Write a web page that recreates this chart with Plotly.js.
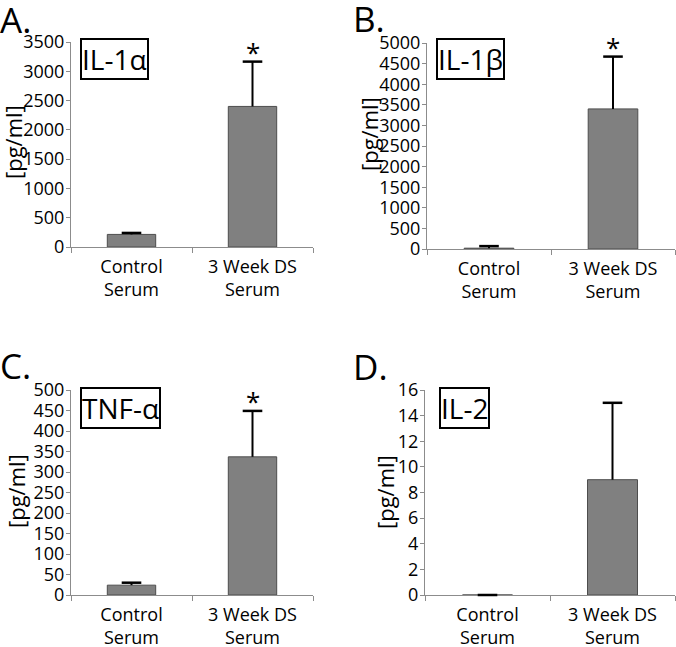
<!DOCTYPE html>
<html>
<head>
<meta charset="utf-8">
<script src="https://cdn.plot.ly/plotly-3.0.1.min.js"></script>
<style>
  body { margin: 0; background: #fff; }
  #chart { width: 676px; height: 647px; }
</style>
</head>
<body>
<div id="chart"></div>
<script>
// data (mean, upper error bar)
var groups = ['Control<br>Serum', '3 Week DS<br>Serum'];

var il1aMean = [215, 2400];
var il1aErr = [25, 765];
var il1bMean = [20, 3400];
var il1bErr = [50, 1270];
var tnfMean = [24, 337];
var tnfErr = [6, 112];
var il2Mean = [0, 9];
var il2Err = [0, 6];

var starsA = ['', '*'];
var starsB = ['', '*'];
var starsC = ['', '*'];
var starsD = ['', ''];

var W = 676, H = 647;
var FONT = 'Open Sans, Liberation Sans, sans-serif';

// pixel boxes of each plot area: [left, right, top, bottom]
var boxes = [
  [71, 313, 42, 247],
  [427, 675, 43, 249],
  [71, 313, 390, 595],
  [425, 675, 390, 595]
];
var yRanges = [[0, 3500], [0, 5000], [0, 500], [0, 16]];
var yDticks = [500, 500, 50, 2];
var names = ['IL-1\u03b1', 'IL-1\u03b2', 'TNF-\u03b1', 'IL-2'];
var panelLetters = ['A.', 'B.', 'C.', 'D.'];
var means = [il1aMean, il1bMean, tnfMean, il2Mean];
var errs = [il1aErr, il1bErr, tnfErr, il2Err];
var stars = [starsA, starsB, starsC, starsD];

// where the boxed names, letters and y titles sit (pixels)
var nameBox = [[114.5, 59.5], [471, 59.5], [120.5, 407.5], [464.5, 407.5]];
var letterPos = [[-2, -6], [351, -7], [-2, 340], [351, 341]];
var ytitlePos = [[13, 142], [369, 134], [16, 491], [385, 492]];

function px(x) { return x / W; }
function py(y) { return 1 - y / H; }

var data = [];
var annotations = [];
var layout = {
  width: W, height: H,
  margin: {l: 0, r: 0, t: 0, b: 0},
  paper_bgcolor: '#fff',
  plot_bgcolor: '#fff',
  showlegend: false,
  bargap: 0.6,
  font: {family: FONT, color: '#000', size: 17}
};

for (var i = 0; i < 4; i++) {
  var sfx = i == 0 ? '' : String(i + 1);
  var b = boxes[i];
  var tops = [];
  for (var k = 0; k < groups.length; k++) tops.push(means[i][k] + errs[i][k]);

  // bars with the stem of the error bar (no caps)
  data.push({
    type: 'bar',
    x: groups,
    y: means[i],
    xaxis: 'x' + sfx,
    yaxis: 'y' + sfx,
    marker: {color: '#808080', line: {color: '#4d4d4d', width: 1}},
    error_y: {
      type: 'data',
      symmetric: false,
      array: errs[i],
      arrayminus: [0, 0],
      color: '#000',
      thickness: 2,
      width: 0
    },
    hoverinfo: 'none'
  });
  // the cap on top of each error bar
  data.push({
    type: 'scatter',
    mode: 'markers',
    x: groups,
    y: tops,
    xaxis: 'x' + sfx,
    yaxis: 'y' + sfx,
    marker: {symbol: 'line-ew-open', size: 14, color: '#000', line: {color: '#000', width: 2.5}},
    hoverinfo: 'none',
    cliponaxis: false
  });

  layout['xaxis' + sfx] = {
    domain: [px(b[0]), px(b[1])],
    anchor: 'y' + sfx,
    type: 'category',
    layer: 'below traces',
    showline: true,
    linecolor: '#8c8c8c',
    linewidth: 1,
    ticks: 'outside',
    tickson: 'boundaries',
    ticklen: 5,
    tickcolor: '#8c8c8c',
    ticklabelstandoff: 3,
    showgrid: false,
    zeroline: false,
    tickfont: {size: 18, family: FONT, color: '#000'},
    fixedrange: true
  };
  layout['yaxis' + sfx] = {
    domain: [py(b[3]), py(b[2])],
    anchor: 'x' + sfx,
    range: yRanges[i],
    dtick: yDticks[i],
    layer: 'below traces',
    showline: true,
    linecolor: '#8c8c8c',
    linewidth: 1,
    ticks: 'outside',
    ticklen: 4,
    tickcolor: '#8c8c8c',
    ticklabelstandoff: -2,
    showgrid: false,
    zeroline: false,
    tickfont: {size: 18, family: FONT, color: '#000'},
    fixedrange: true
  };

  // asterisks over the error bars
  for (var j = 0; j < groups.length; j++) {
    if (!stars[i][j]) continue;
    annotations.push({
      xref: 'x' + sfx, yref: 'y' + sfx,
      x: groups[j], y: tops[j],
      text: stars[i][j],
      showarrow: false,
      yanchor: 'bottom',
      yshift: -10,
      font: {size: 26, family: FONT, color: '#000'}
    });
  }

  // boxed cytokine name
  annotations.push({
    xref: 'paper', yref: 'paper',
    x: px(nameBox[i][0]), y: py(nameBox[i][1]),
    xanchor: 'center', yanchor: 'middle',
    text: names[i],
    showarrow: false,
    bordercolor: '#000',
    borderwidth: 2,
    borderpad: 0,
    bgcolor: '#fff',
    font: {size: 28, family: FONT, color: '#000'}
  });

  // panel letter
  annotations.push({
    xref: 'paper', yref: 'paper',
    x: px(letterPos[i][0]), y: py(letterPos[i][1]),
    xanchor: 'left', yanchor: 'top',
    text: panelLetters[i],
    showarrow: false,
    font: {size: 35, family: FONT, color: '#000'}
  });

  // y axis title
  annotations.push({
    xref: 'paper', yref: 'paper',
    x: px(ytitlePos[i][0]), y: py(ytitlePos[i][1]),
    xanchor: 'center', yanchor: 'middle',
    text: '[pg/ml]',
    textangle: -90,
    showarrow: false,
    font: {size: 22, family: FONT, color: '#000'}
  });
}

layout.annotations = annotations;

Plotly.newPlot('chart', data, layout, {staticPlot: true});
</script>
</body>
</html>
